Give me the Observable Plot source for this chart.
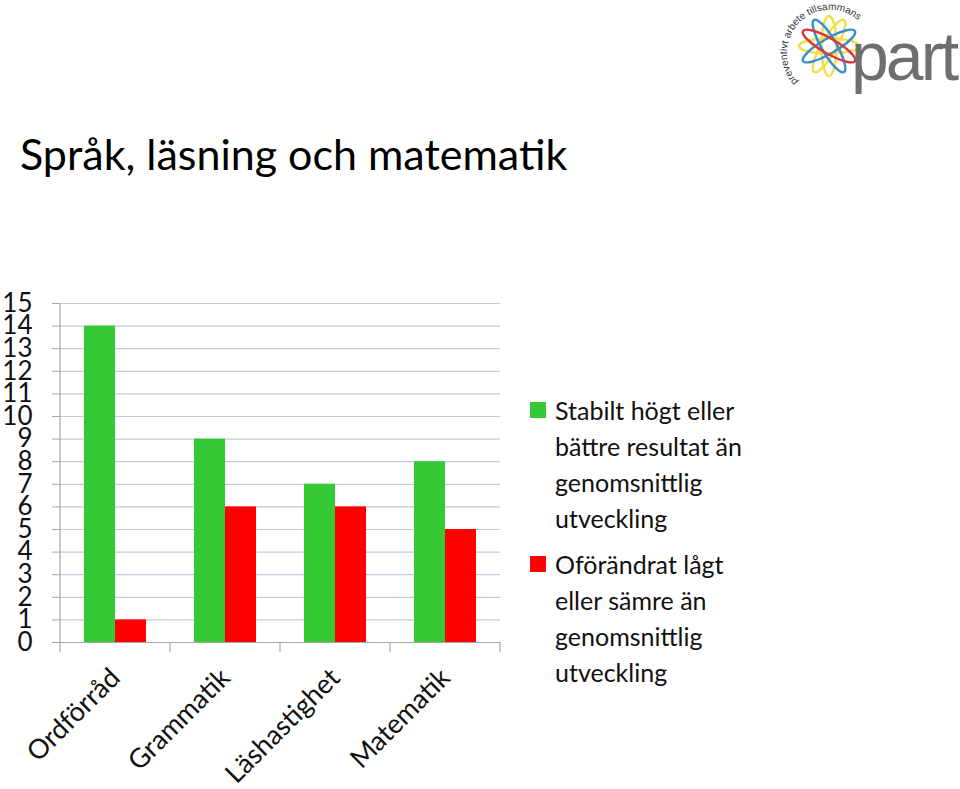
<!DOCTYPE html>
<html>
<head>
<meta charset="utf-8">
<script src="https://cdn.jsdelivr.net/npm/d3@7"></script>
<script src="https://cdn.jsdelivr.net/npm/@observablehq/plot@0.6"></script>
<style>
  html, body { margin: 0; padding: 0; background: #fff; }
  body { width: 960px; height: 789px; position: relative; overflow: hidden; font-family: Lato, "Open Sans", sans-serif; }
  #title { position: absolute; left: 20px; top: 128px; font-size: 43px; color: #000; white-space: nowrap; }
  #chart { position: absolute; left: 0; top: 280px; }
  #legend { position: absolute; left: 530px; top: 392px; font-size: 25px; line-height: 36px; color: #111; }
  .item { position: relative; padding-left: 25px; margin-bottom: 10px; }
  .sw { position: absolute; left: 0; top: 10px; width: 16px; height: 16px; }
  #logo { position: absolute; left: 770px; top: 0; }
</style>
</head>
<body>
<div id="title">Språk, läsning och matematik</div>
<svg id="logo" width="190" height="100" viewBox="0 0 190 100">
  <defs>
    <path id="arc" d="M 28 82 A 42 42 0 1 1 92 24" fill="none"/>
  </defs>
  <text font-family="Liberation Sans, sans-serif" font-size="10" fill="#333"><textPath href="#arc">preventivt arbete tillsammans</textPath></text>
  <g transform="translate(59,46)" fill="none" stroke-width="2.5">
    <ellipse rx="30" ry="7.5" transform="rotate(0)" stroke="#f2e04a"/>
    <ellipse rx="30" ry="7.5" transform="rotate(90)" stroke="#f2e04a"/>
    <ellipse rx="30" ry="7.5" transform="rotate(-60)" stroke="#f2e04a"/>
    <ellipse rx="30" ry="7.5" transform="rotate(60)" stroke="#3a8fd0"/>
    <ellipse rx="30" ry="7.5" transform="rotate(-30)" stroke="#3a8fd0"/>
    <ellipse rx="30" ry="7.5" transform="rotate(30)" stroke="#d83a3a"/>
  </g>
  <text x="81" y="80" font-family="Liberation Sans, sans-serif" font-size="68" fill="#6d6e70" letter-spacing="-3">part</text>
</svg>
<div id="chart"></div>
<div id="legend"></div>
<script>
// ---- data ----
const categories = ["Ordförråd", "Grammatik", "Läshastighet", "Matematik"];
const seriesNames = [
  "Stabilt högt eller bättre resultat än genomsnittlig utveckling",
  "Oförändrat lågt eller sämre än genomsnittlig utveckling"
];
const legendLines = [
  ["Stabilt högt eller", "bättre resultat än", "genomsnittlig", "utveckling"],
  ["Oförändrat lågt", "eller sämre än", "genomsnittlig", "utveckling"]
];
const stableHigh = [14, 9, 7, 8];
const unchangedLow = [1, 6, 6, 5];
const yTicks = [0, 1, 2, 3, 4, 5, 6, 7, 8, 9, 10, 11, 12, 13, 14, 15];
const seriesColors = ["#35c935", "#ff0000"];

const data = [];
categories.forEach((c, i) => {
  data.push({category: c, series: seriesNames[0], value: stableHigh[i]});
  data.push({category: c, series: seriesNames[1], value: unchangedLow[i]});
});

const chart = Plot.plot({
  width: 520,
  height: 509,
  marginLeft: 60,
  marginRight: 20,
  marginTop: 23,
  marginBottom: 147,
  style: {fontFamily: "Lato, 'Open Sans', sans-serif", color: "#111", background: "transparent", overflow: "visible"},
  fx: {domain: categories, padding: 0, label: null},
  x: {domain: seriesNames, axis: null, paddingInner: 0, paddingOuter: 0.746},
  y: {domain: [0, 15], label: null},
  color: {domain: seriesNames, range: seriesColors},
  marks: [
    Plot.gridY(yTicks, {stroke: "#c2cadc", strokeOpacity: 1, strokeWidth: 1.2}),
    Plot.barY(data, {fx: "category", x: "series", y: "value", fill: "series"}),
    Plot.ruleY([0], {stroke: "#a6a6a6", strokeWidth: 1.2}),
    Plot.axisY(yTicks, {tickSize: 8, tickPadding: 20, fontSize: 26, stroke: "#a6a6a6", label: null, fill: "#111"}),
    Plot.axisFx({anchor: "bottom", tickRotate: -45, tickSize: 0, tickPadding: 31, fontSize: 27, label: null, fill: "#111"})
  ]
});
document.getElementById("chart").appendChild(chart);

// axis line and band-boundary ticks derived from Plot's scales
const fx = chart.scale("fx");
const y = chart.scale("y");
const svg = d3.select(chart);
const y0 = y.apply(0), y15 = y.apply(15);
const bounds = categories.map(c => fx.apply(c));
bounds.push(fx.apply(categories[categories.length - 1]) + fx.bandwidth);
const g = svg.append("g").attr("stroke", "#a6a6a6").attr("stroke-width", 1.2);
g.append("line").attr("x1", bounds[0]).attr("x2", bounds[0]).attr("y1", y15).attr("y2", y0);
bounds.forEach(b => {
  g.append("line").attr("x1", b).attr("x2", b).attr("y1", y0).attr("y2", y0 + 10);
});

// legend
const legend = d3.select("#legend");
seriesNames.forEach((s, i) => {
  const it = legend.append("div").attr("class", "item");
  it.append("div").attr("class", "sw").style("background", seriesColors[i]);
  it.append("div").html(legendLines[i].join("<br>"));
});
</script>
</body>
</html>
